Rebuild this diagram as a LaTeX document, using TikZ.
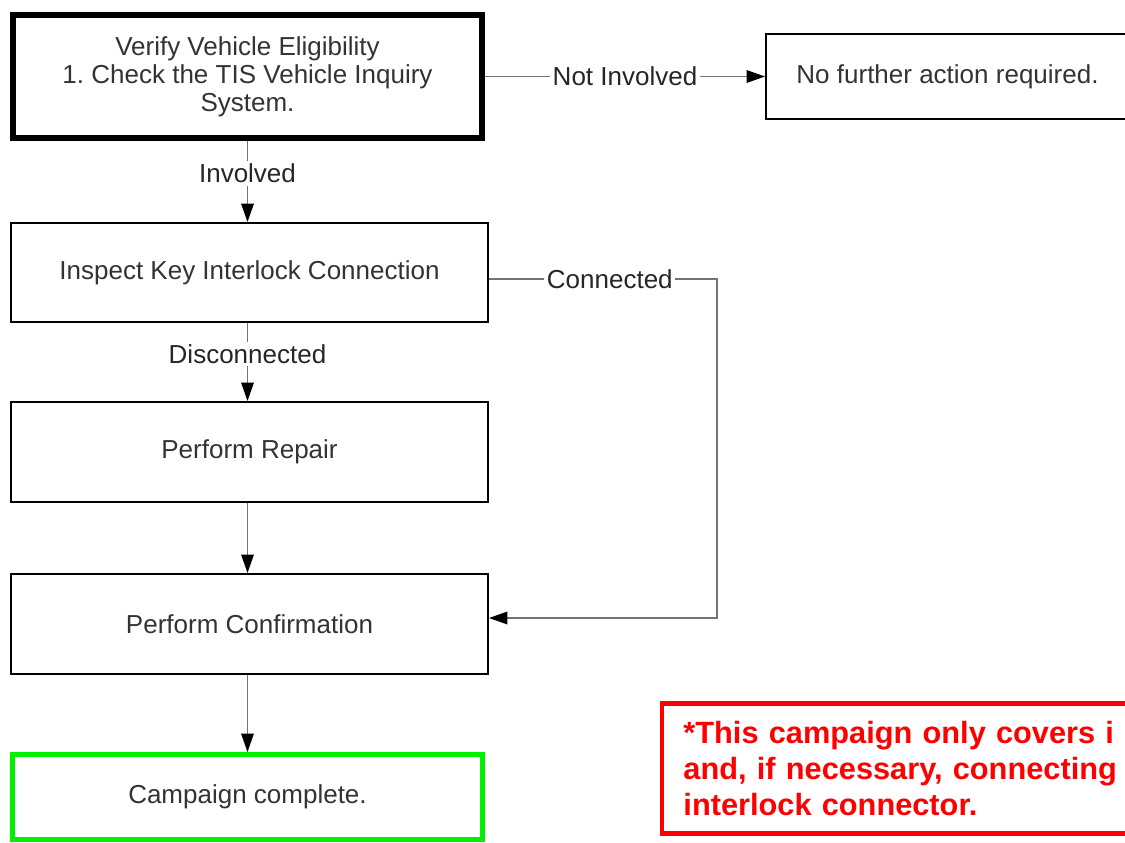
\documentclass[tikz,border=0pt]{standalone}
\usepackage{fontspec}
\setmainfont{Liberation Sans}
\usetikzlibrary{arrows.meta}
\definecolor{notered}{RGB}{255,0,0}
\definecolor{donegreen}{RGB}{0,240,0}
\frenchspacing
\begin{document}
\begin{tikzpicture}[
x=0.02cm, y=-0.02cm,
box/.style={
  draw=black,
  line width=1.1pt,
  fill=white,
  text=black!80,
  align=center,
  inner sep=0pt,
  font=\fontsize{14.8}{15.9}\selectfont
},
link/.style={black!55,line width=1pt,-{Triangle[length=0.37cm,width=0.25cm,color=black]}},
linknote/.style={fill=white,text=black!85,inner sep=1.5pt,font=\fontsize{14.8}{15.9}\selectfont}
]
\useasboundingbox (0,0) rectangle (1125,842);
\clip (0,0) rectangle (1125,842);

\node (verify) at (247.5,76.5) [box,line width=3.4pt,minimum width=9.38cm,minimum height=2.46cm]
  {Verify Vehicle Eligibility\\1. Check the TIS Vehicle Inquiry\\System.};
\node (noaction) at (947.5,76.5) [box,minimum width=7.26cm,minimum height=1.7cm] {No further action required.};

\node (inspect) at (249.5,272.5) [box,minimum width=9.54cm,minimum height=1.98cm] {Inspect Key Interlock Connection};
\node (repair) at (249.5,452) [box,minimum width=9.54cm,minimum height=2cm] {Perform Repair};
\node (confirm) at (249.5,624) [box,minimum width=9.54cm,minimum height=2cm] {Perform Confirmation};
\node (complete) at (247.5,797) [box,draw=donegreen,line width=2.8pt,minimum width=9.4cm,minimum height=1.7cm] {Campaign complete.};

% note box runs past the right edge, as in the scan
\node (note) at (659.5,768.5) [box,anchor=west,draw=notered,line width=2.8pt,text=notered,align=left,
  minimum height=2.6cm,inner xsep=0.43cm,text width=11.2cm,
  font=\bfseries\fontsize{17.5}{20.7}\selectfont]
  {*This campaign only covers i\\and, if necessary, connecting\\interlock connector.};

\coordinate (c1) at (717,279);
\coordinate (c2) at (717,618);

\draw [link] (verify.east) to node [linknote] {Not Involved} (noaction.west);
\draw [link] (verify.south) to node [linknote,pos=0.4] {Involved} (verify.south |- inspect.north);
\draw [link] (verify.south |- inspect.south) to node [linknote,pos=0.4] {Disconnected} (verify.south |- repair.north);
\draw [link] (verify.south |- repair.south) -- (verify.south |- confirm.north);
\draw [link] (verify.south |- confirm.south) -- (complete.north);

\draw [link] (inspect.east |- c1) to node [linknote,pos=0.53] {Connected} (c1) -- (c2) -- (confirm.east |- c2);

\end{tikzpicture}
\end{document}
